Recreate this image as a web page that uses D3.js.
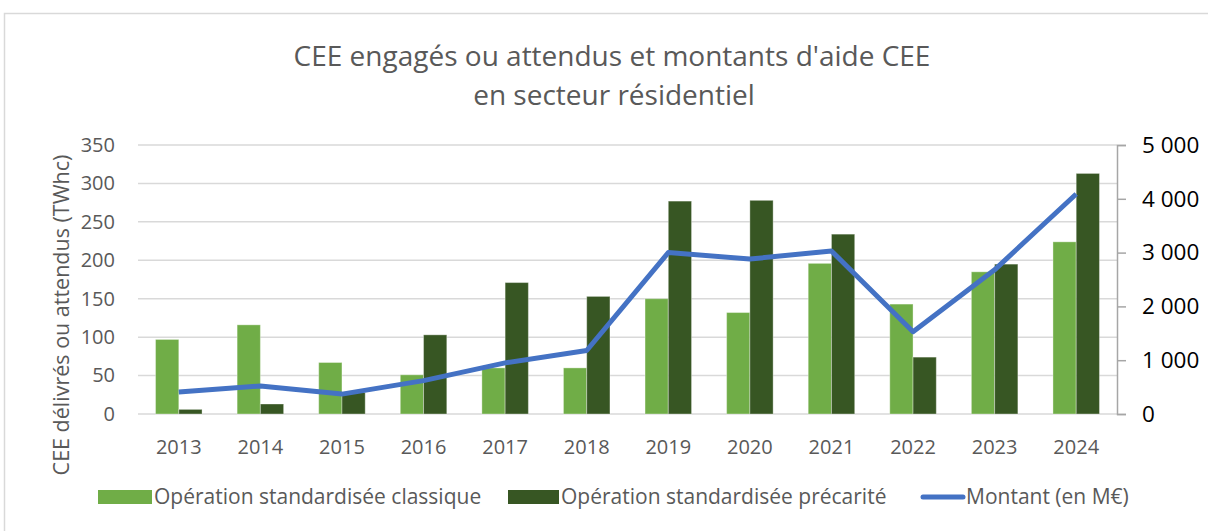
<!DOCTYPE html>
<meta charset="utf-8">
<head>
  <title>CEE secteur résidentiel</title>
</head>

<style>
body {
  margin: 0;
  background: #fff;
  font-family: "Open Sans", "Noto Sans", sans-serif;
}
</style>

<body>
  <div id="chart"></div>

  <script src="https://cdnjs.cloudflare.com/ajax/libs/d3/7.8.5/d3.min.js"></script>

  <script>
// Data
var years = ['2013', '2014', '2015', '2016', '2017', '2018', '2019', '2020', '2021', '2022', '2023', '2024'];
var classique = [97, 116, 67, 51, 60, 60, 150, 132, 196, 143, 185, 224];
var precarite = [6, 13, 28, 103, 171, 153, 277, 278, 234, 74, 195, 313];
var montant = [410, 520, 370, 620, 950, 1180, 3000, 2880, 3030, 1530, 2680, 4090];
var leftTicks = [0, 50, 100, 150, 200, 250, 300, 350];
var rightTicks = [0, 1000, 2000, 3000, 4000, 5000];
var seriesNames = ['Opération standardisée classique', 'Opération standardisée précarité', 'Montant (en M€)'];

var width = 1208, height = 531;
var plot = {left: 138, right: 1117, top: 145, bottom: 414};

var colLight = '#70ad47', colDark = '#375623', colLine = '#4472c4';
var grey = '#595959';

var svg = d3.select('#chart').append('svg')
  .attr('width', width)
  .attr('height', height);

// chart frame
svg.append('rect')
  .attr('x', 4.5).attr('y', 13.5)
  .attr('width', width).attr('height', height)
  .attr('fill', 'none')
  .attr('stroke', '#d9d9d9')
  .attr('stroke-width', 1.5);

// title
var title = svg.append('text')
  .attr('text-anchor', 'middle')
  .attr('fill', grey)
  .style('font-size', '28px');
title.append('tspan').attr('x', 612).attr('y', 66).text("CEE engagés ou attendus et montants d'aide CEE");
title.append('tspan').attr('x', 614).attr('y', 105).text('en secteur résidentiel');

// scales
var x0 = d3.scaleBand()
  .domain(years)
  .range([plot.left, plot.right])
  .paddingInner(0.43)
  .paddingOuter(0.215);

var x1 = d3.scaleBand()
  .domain(['classique', 'precarite'])
  .range([0, x0.bandwidth()]);

var yLeft = d3.scaleLinear().domain([0, 350]).range([plot.bottom, plot.top]);
var yRight = d3.scaleLinear().domain([0, 5000]).range([plot.bottom, plot.top]);

var fr = d3.formatLocale({decimal: ',', thousands: '\u00a0', grouping: [3], currency: ['', ' €']});
var fmt = fr.format(',d');

// gridlines
svg.append('g')
  .selectAll('line')
  .data(leftTicks)
  .join('line')
  .attr('x1', plot.left)
  .attr('x2', plot.right)
  .attr('y1', d => yLeft(d))
  .attr('y2', d => yLeft(d))
  .attr('stroke', '#d9d9d9')
  .attr('stroke-width', 1.5);

// left axis labels
var leftAxis = svg.append('g')
  .attr('transform', 'translate(' + (plot.left - 23) + ',0)')
  .call(d3.axisLeft(yLeft).tickValues(leftTicks).tickSize(0).tickPadding(0));
leftAxis.select('.domain').remove();
leftAxis.selectAll('text')
  .attr('fill', grey)
  .style('font-size', '20px')
  .style('font-family', '"Open Sans", sans-serif');

// right axis
var rightAxis = svg.append('g')
  .attr('transform', 'translate(' + plot.right + ',0)')
  .call(d3.axisRight(yRight).tickValues(rightTicks).tickSize(9).tickSizeOuter(9).tickPadding(16).tickFormat(fmt));
rightAxis.select('.domain').attr('stroke', '#a6a6a6').attr('stroke-width', 1.5);
rightAxis.selectAll('.tick line').attr('stroke', '#a6a6a6').attr('stroke-width', 1.5);
rightAxis.selectAll('text')
  .attr('fill', '#000')
  .style('font-size', '22.5px')
  .style('font-family', '"Open Sans", sans-serif');

// x axis labels
var xAxis = svg.append('g')
  .attr('transform', 'translate(0,447)')
  .call(d3.axisBottom(x0).tickSize(0).tickPadding(0));
xAxis.select('.domain').remove();
xAxis.selectAll('text')
  .attr('y', 0)
  .attr('dy', '0.35em')
  .attr('fill', grey)
  .style('font-size', '20px')
  .style('font-family', '"Open Sans", sans-serif');

// y axis title
svg.append('text')
  .attr('transform', 'translate(69,315) rotate(-90)')
  .attr('text-anchor', 'middle')
  .attr('fill', grey)
  .style('font-size', '21.5px')
  .text('CEE délivrés ou attendus (TWhc)');

// bars
var groups = svg.append('g')
  .selectAll('g')
  .data(years)
  .join('g')
  .attr('transform', d => 'translate(' + x0(d) + ',0)');

groups.append('rect')
  .attr('x', x1('classique'))
  .attr('width', x1.bandwidth())
  .attr('y', (d, i) => yLeft(classique[i]))
  .attr('height', (d, i) => yLeft(0) - yLeft(classique[i]))
  .attr('fill', colLight)
  .attr('stroke', '#fff').attr('stroke-opacity', 0.35);

groups.append('rect')
  .attr('x', x1('precarite'))
  .attr('width', x1.bandwidth())
  .attr('y', (d, i) => yLeft(precarite[i]))
  .attr('height', (d, i) => yLeft(0) - yLeft(precarite[i]))
  .attr('fill', colDark)
  .attr('stroke', '#fff').attr('stroke-opacity', 0.35);

// line
var line = d3.line()
  .x((d, i) => x0(years[i]) + x0.bandwidth() / 2)
  .y(d => yRight(d));

svg.append('path')
  .datum(montant)
  .attr('d', line)
  .attr('fill', 'none')
  .attr('stroke', colLine)
  .attr('stroke-width', 5)
  .attr('stroke-linejoin', 'round');

// legend
var legendY = 497;
var legendX = [98, 508, 920];
var legend = svg.append('g');

legend.append('rect').attr('x', legendX[0]).attr('y', legendY - 7).attr('width', 54).attr('height', 14).attr('fill', colLight);
legend.append('rect').attr('x', legendX[1]).attr('y', legendY - 7).attr('width', 51).attr('height', 14).attr('fill', colDark);
legend.append('line')
  .attr('x1', legendX[2] + 3).attr('x2', legendX[2] + 43)
  .attr('y1', legendY).attr('y2', legendY)
  .attr('stroke', colLine).attr('stroke-width', 5).attr('stroke-linecap', 'round');

var textX = [154, 561, 966];
legend.selectAll('text.lg')
  .data(seriesNames)
  .join('text')
  .attr('class', 'lg')
  .attr('x', (d, i) => textX[i])
  .attr('y', legendY)
  .attr('dy', '0.35em')
  .attr('fill', grey)
  .style('font-size', '21px')
  .text(d => d);
  </script>
</body>
</html>
